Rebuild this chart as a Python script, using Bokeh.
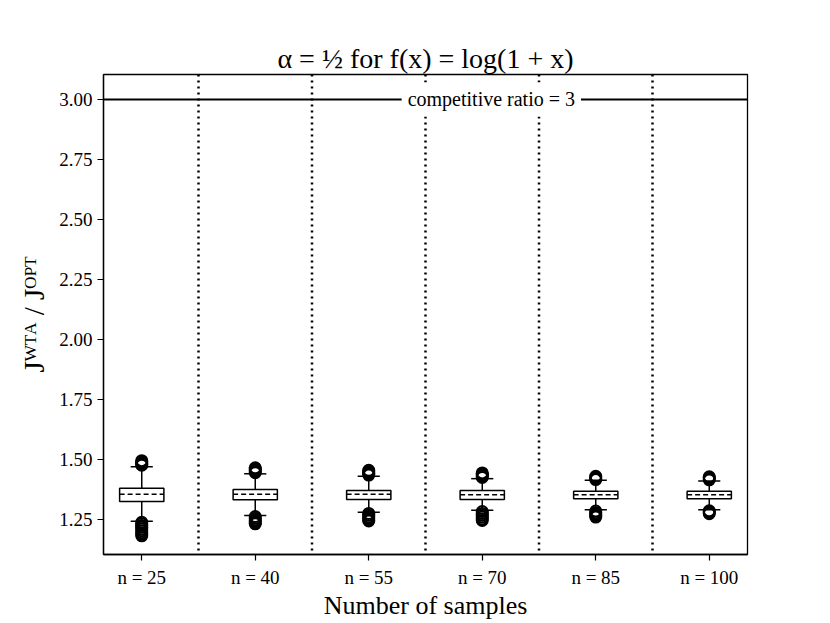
from bokeh.plotting import figure
from bokeh.models import Span, Label, FixedTicker, PrintfTickFormatter, Range1d
from bokeh.embed import file_html
from bokeh.resources import INLINE

# ---- data ----
categories = ["n = 25", "n = 40", "n = 55", "n = 70", "n = 85", "n = 100"]
q1 = [1.325, 1.332, 1.333, 1.333, 1.336, 1.336]
median = [1.355, 1.355, 1.355, 1.353, 1.353, 1.353]
q3 = [1.380, 1.375, 1.371, 1.371, 1.368, 1.368]
whisker_low = [1.243, 1.267, 1.280, 1.288, 1.290, 1.290]
whisker_high = [1.470, 1.440, 1.430, 1.420, 1.413, 1.410]
outliers_high = [
    [1.476, 1.480, 1.485, 1.490, 1.495],
    [1.445, 1.450, 1.455, 1.460, 1.465],
    [1.435, 1.440, 1.445, 1.450, 1.455],
    [1.425, 1.430, 1.435, 1.440, 1.444],
    [1.416, 1.420, 1.425, 1.430],
    [1.415, 1.420, 1.425, 1.428],
]
outliers_low = [
    [1.238, 1.232, 1.225, 1.218, 1.210, 1.203, 1.195, 1.188, 1.182],
    [1.262, 1.255, 1.248, 1.242, 1.236, 1.232],
    [1.275, 1.268, 1.260, 1.254, 1.248, 1.244],
    [1.283, 1.275, 1.268, 1.260, 1.252, 1.246],
    [1.285, 1.278, 1.272, 1.266, 1.260],
    [1.286, 1.282, 1.278, 1.274],
]
competitive_ratio = 3.0
y_ticks = [1.25, 1.50, 1.75, 2.00, 2.25, 2.50, 2.75, 3.00]

positions = list(range(1, len(categories) + 1))
box_w = 0.39
FONT = "Liberation Serif"

p = figure(
    frame_width=644, frame_height=480,
    min_border_left=103, min_border_right=75, min_border_top=74, min_border_bottom=60,
    x_range=Range1d(0.663, 6.337), y_range=Range1d(1.104, 3.104),
    output_backend="svg", toolbar_location=None,
    title="α = ½ for f(x) = log(1 + x)",
)
p.background_fill_color = "white"
p.border_fill_color = "white"
p.outline_line_color = "black"
p.outline_line_width = 1.3
p.xgrid.visible = False
p.ygrid.visible = False

p.title.text_font = FONT
p.title.text_font_size = "28px"
p.title.text_font_style = "normal"
p.title.text_color = "black"
p.title.align = "center"
p.title.standoff = 2

# axes
for ax in (p.xaxis[0], p.yaxis[0]):
    ax.axis_line_color = "black"
    ax.axis_line_width = 1.3
    ax.major_tick_line_color = "black"
    ax.major_tick_line_width = 1.2
    ax.major_tick_out = 6
    ax.major_tick_in = 0
    ax.minor_tick_line_color = None
    ax.major_label_text_font = FONT
    ax.major_label_text_font_size = "19px"
    ax.major_label_text_color = "black"
    ax.axis_label_text_font = FONT
    ax.axis_label_text_font_style = "normal"
    ax.axis_label_text_color = "black"

p.xaxis.ticker = FixedTicker(ticks=positions)
p.xaxis.major_label_overrides = {pos: lab for pos, lab in zip(positions, categories)}
p.xaxis.axis_label = "Number of samples"
p.xaxis.axis_label_text_font_size = "26px"
p.xaxis.major_label_standoff = 6
p.xaxis.axis_label_standoff = 0

p.yaxis.ticker = FixedTicker(ticks=y_ticks)
p.yaxis.formatter = PrintfTickFormatter(format="%.2f")
p.yaxis.axis_label = "Jᵂᵀᴬ / Jᴼᴾᵀ"
p.yaxis.axis_label_text_font_size = "29px"
p.yaxis.major_label_standoff = 5
p.yaxis.axis_label_standoff = 6

# separators between groups
for pos in positions[:-1]:
    p.add_layout(Span(location=pos + 0.5, dimension="height", line_color="black",
                      line_width=2.5, line_dash="2 4"))

# competitive ratio line
p.add_layout(Span(location=competitive_ratio, dimension="width", line_color="black", line_width=2))

# whiskers
p.segment(x0=positions, x1=positions, y0=q3, y1=whisker_high, line_color="black", line_width=1.5)
p.segment(x0=positions, x1=positions, y0=q1, y1=whisker_low, line_color="black", line_width=1.5)
# caps
cap_l = [x - box_w / 4 for x in positions]
cap_r = [x + box_w / 4 for x in positions]
p.segment(x0=cap_l, x1=cap_r, y0=whisker_high, y1=whisker_high, line_color="black", line_width=1.5)
p.segment(x0=cap_l, x1=cap_r, y0=whisker_low, y1=whisker_low, line_color="black", line_width=1.5)
# boxes
p.quad(left=[x - box_w / 2 for x in positions], right=[x + box_w / 2 for x in positions],
       bottom=q1, top=q3, fill_color="white", line_color="black", line_width=1.5)
# medians
p.segment(x0=[x - box_w / 2 for x in positions], x1=[x + box_w / 2 for x in positions],
          y0=median, y1=median, line_color="black", line_width=1.5, line_dash="5 3")

# outliers
ox, oy = [], []
for pos, hi, lo in zip(positions, outliers_high, outliers_low):
    for v in hi + lo:
        ox.append(pos)
        oy.append(v)
p.scatter(ox, oy, marker="circle", size=11, fill_alpha=0, line_color="black", line_width=2)

lab = Label(x=4.08, y=competitive_ratio, text="competitive ratio = 3",
            text_align="center", text_baseline="middle",
            text_font=FONT, text_font_size="20px", text_color="black",
            background_fill_color="white", padding=6)
p.add_layout(lab)

open("out.html", "w").write(file_html(p, INLINE))
